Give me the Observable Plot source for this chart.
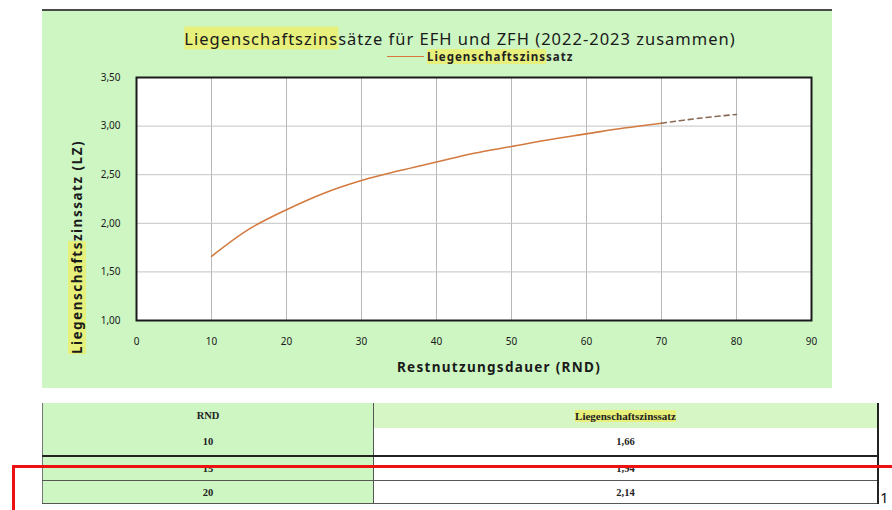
<!DOCTYPE html>
<html>
<head>
<meta charset="utf-8">
<script src="https://cdn.jsdelivr.net/npm/d3@7"></script>
<script src="https://cdn.jsdelivr.net/npm/@observablehq/plot@0.6"></script>
<style>
  html, body { margin: 0; padding: 0; background: #ffffff; }
  #wrap { position: relative; width: 892px; height: 510px; overflow: hidden; background: #fff; font-family: "Noto Sans", "DejaVu Sans", sans-serif; }
  #panel { position: absolute; left: 42px; top: 9px; width: 790px; height: 379px; background: #cdf6c3; border-top: 2px solid #4a4a4a; box-sizing: border-box; }
  #title { position: absolute; left: 460px; top: 38px; transform: translate(-50%, -50%); font-size: 16.5px; letter-spacing: 1px; color: #1a1a1a; white-space: nowrap; }
  .hl { background: #e6f07a; }
  #legend { position: absolute; left: 387px; top: 49px; font-size: 11.5px; letter-spacing: 1px; font-weight: bold; color: #222; white-space: nowrap; display: flex; align-items: center; }
  #legend .sw { width: 37px; height: 0; border-top: 1.5px solid #d9773a; margin-right: 3px; }
  #ytitle { position: absolute; left: 77px; top: 247px; transform: translate(-50%, -50%) rotate(-90deg); font-size: 13.5px; letter-spacing: 1.5px; font-weight: bold; color: #1a1a1a; white-space: nowrap; }
  #xtitle { position: absolute; left: 499px; top: 367px; transform: translate(-50%, -50%); font-size: 13.5px; letter-spacing: 1.3px; font-weight: bold; color: #1a1a1a; white-space: nowrap; }
  #chart { position: absolute; left: 0; top: 70px; }
  #tbl { position: absolute; left: 42px; top: 403px; border-collapse: collapse; font-family: "Liberation Serif", serif; font-size: 10.5px; font-weight: bold; color: #222; }
  #tbl td { padding: 0; text-align: center; border-bottom: 1px solid #555; }
  #tbl td.l { width: 330px; background: #cdf6c3; border-left: 1px solid #777; border-right: 1px solid #555; }
  #tbl td.r { width: 503px; background: #fff; border-right: 2px solid #222; }
  #tbl tr.h td { height: 25px; background: #cdf6c3; border-bottom: none; }
  #tbl tr.h td.r { background: #d6f6c6; font-size: 11px; }
  #redbox { position: absolute; left: 12px; top: 465px; width: 900px; height: 60px; border: 3px solid #ee1111; box-sizing: border-box; }
  #one { position: absolute; left: 880px; top: 487px; font-size: 15px; color: #111; }
</style>
</head>
<body>
<div id="wrap">
  <div id="panel"></div>
  <div id="title"><span class="hl">Liegenschaftszins</span>sätze für EFH und ZFH (2022-2023 zusammen)</div>
  <div id="legend"><div class="sw"></div><span class="hl">Liegenschaftszins</span>satz</div>
  <div id="ytitle"><span class="hl">Liegenschafts</span>zinssatz (LZ)</div>
  <div id="xtitle">Restnutzungsdauer (RND)</div>
  <div id="chart"></div>
  <table id="tbl"></table>
  <div id="redbox"></div>
  <div id="one">1</div>
</div>
<script>
// Data
const rnd = [10, 15, 20, 25, 30, 35, 40, 45, 50, 55, 60, 65, 70];
const lz = [1.66, 1.94, 2.14, 2.31, 2.44, 2.54, 2.63, 2.72, 2.79, 2.86, 2.92, 2.98, 3.03];
const rndExt = [70, 75, 80];
const lzExt = [3.03, 3.08, 3.12];
const xTicks = [0, 10, 20, 30, 40, 50, 60, 70, 80, 90];
const yTicks = [1.0, 1.5, 2.0, 2.5, 3.0, 3.5];
const tableRnd = [10, 15, 20];
const tableLz = [1.66, 1.94, 2.14];

const fmt = v => v.toFixed(2).replace(".", ",");

const solid = rnd.map((x, i) => ({x, y: lz[i]}));
const ext = rndExt.map((x, i) => ({x, y: lzExt[i]}));

const chart = Plot.plot({
  width: 892,
  height: 310,
  marginLeft: 136,
  marginRight: 81,
  marginTop: 7,
  marginBottom: 60,
  style: {background: "transparent", fontFamily: "'Noto Sans', sans-serif", fontSize: "10px", color: "#1a1a1a"},
  x: {domain: [0, 90], label: null},
  y: {domain: [1, 3.5], label: null},
  marks: [
    Plot.frame({fill: "white"}),
    Plot.gridX(xTicks, {stroke: "#b8b8b8", strokeOpacity: 1}),
    Plot.gridY(yTicks, {stroke: "#c4c4c4", strokeOpacity: 1}),
    Plot.line(solid, {x: "x", y: "y", stroke: "#d27a40", strokeWidth: 1.6, curve: "catmull-rom"}),
    Plot.line(ext, {x: "x", y: "y", stroke: "#8a6a55", strokeWidth: 1.6, strokeDasharray: "5,4", curve: "catmull-rom"}),
    Plot.frame({stroke: "#1a1a1a", strokeWidth: 2}),
    Plot.axisX(xTicks, {tickSize: 0, tickPadding: 17, tickFormat: d => String(d), fontSize: 10}),
    Plot.axisY(yTicks, {tickSize: 0, tickPadding: 16, tickFormat: fmt, fontSize: 10})
  ]
});
document.getElementById("chart").appendChild(chart);

// Table below the chart
const tbl = document.getElementById("tbl");
const head = document.createElement("tr");
head.className = "h";
head.innerHTML = '<td class="l">RND</td><td class="r"><span class="hl">Liegenschaftszinssatz</span></td>';
tbl.appendChild(head);
const heights = [27, 23, 22];
tableRnd.forEach((r, i) => {
  const tr = document.createElement("tr");
  const a = document.createElement("td"); a.className = "l"; a.textContent = r; a.style.height = heights[i] + "px";
  const b = document.createElement("td"); b.className = "r"; b.textContent = fmt(tableLz[i]);
  if (i === 0) { a.style.borderBottom = "2px solid #222"; b.style.borderBottom = "2px solid #222"; }
  tr.appendChild(a); tr.appendChild(b);
  tbl.appendChild(tr);
});
</script>
</body>
</html>
